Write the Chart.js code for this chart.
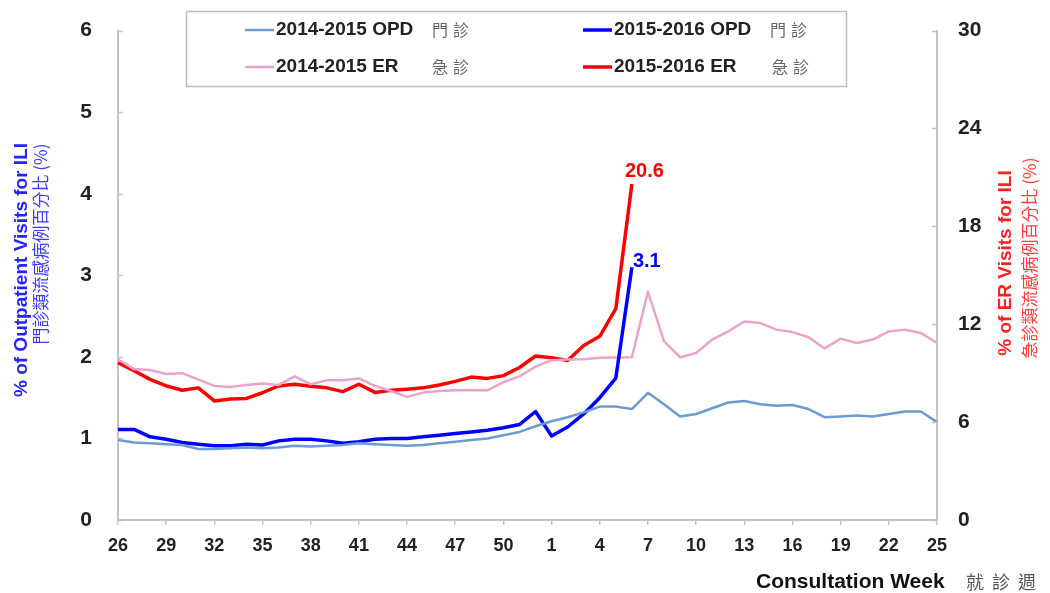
<!DOCTYPE html>
<html>
<head>
<meta charset="utf-8">
<script src="https://cdn.jsdelivr.net/npm/chart.js@4"></script>
<style>
  body { margin: 0; background: #fff; }
  canvas { display: block; }
</style>
</head>
<body>
<canvas id="chartCanvas" width="1050" height="593"></canvas>
<script>
    // consultation weeks 26..52 then 1..25
    const weeks = ['26', '27', '28', '29', '30', '31', '32', '33', '34', '35', '36', '37', '38', '39', '40',
        '41', '42', '43', '44', '45', '46', '47', '48', '49', '50', '51', '52',
        '1', '2', '3', '4', '5', '6', '7', '8', '9', '10', '11', '12', '13', '14', '15', '16', '17', '18',
        '19', '20', '21', '22', '23', '24', '25'];

    // % of outpatient visits for ILI (left axis)
    const opd1415 = [0.98, 0.95, 0.94, 0.93, 0.92, 0.87, 0.87, 0.88, 0.89, 0.88, 0.89, 0.91, 0.90, 0.91, 0.92,
        0.94, 0.93, 0.92, 0.91, 0.92, 0.94, 0.96, 0.98, 1.00, 1.04, 1.08, 1.15,
        1.21, 1.26, 1.32, 1.39, 1.39, 1.36, 1.56, 1.42, 1.27, 1.30, 1.37, 1.44, 1.46, 1.42, 1.40, 1.41, 1.36, 1.26,
        1.27, 1.28, 1.27, 1.30, 1.33, 1.33, 1.20];
    const opd1516 = [1.11, 1.11, 1.02, 0.99, 0.95, 0.93, 0.91, 0.91, 0.93, 0.92, 0.97, 0.99, 0.99, 0.97, 0.94,
        0.96, 0.99, 1.00, 1.00, 1.02, 1.04, 1.06, 1.08, 1.10, 1.13, 1.17, 1.33,
        1.03, 1.14, 1.30, 1.50, 1.74, 3.1];

    // % of ER visits for ILI (right axis)
    const er1415 = [9.85, 9.25, 9.2, 8.95, 9.0, 8.6, 8.22, 8.16, 8.28, 8.36, 8.28, 8.8, 8.32, 8.56, 8.56,
        8.68, 8.22, 7.91, 7.55, 7.81, 7.91, 7.95, 7.95, 7.95, 8.45, 8.8, 9.4,
        9.8, 9.84, 9.86, 9.94, 9.96, 9.98, 14.0, 10.96, 9.98, 10.24, 11.06, 11.56, 12.17, 12.07, 11.67, 11.52, 11.2, 10.51,
        11.12, 10.85, 11.06, 11.56, 11.67, 11.46, 10.85];
    const er1516 = [9.65, 9.15, 8.62, 8.22, 7.95, 8.1, 7.3, 7.42, 7.45, 7.8, 8.22, 8.32, 8.2, 8.1, 7.87,
        8.32, 7.82, 7.95, 8.02, 8.1, 8.28, 8.5, 8.76, 8.68, 8.85, 9.35, 10.05,
        9.95, 9.78, 10.7, 11.26, 12.95, 20.6];

    const axisGrey = '#c4c4c4';
    const tickFont = { family: 'Liberation Sans', weight: 'bold', size: 21 };

    // inward tick marks on both value axes
    const yTicksPlugin = {
        id: 'yTicks',
        afterDraw(chart) {
            const c = chart.ctx;
            c.save();
            c.strokeStyle = axisGrey;
            c.lineWidth = 1.5;
            ['y', 'y1'].forEach(function (id) {
                const s = chart.scales[id];
                const x0 = id === 'y' ? s.right : s.left;
                const dir = id === 'y' ? 1 : -1;
                s.ticks.forEach(function (t) {
                    const py = Math.round(s.getPixelForValue(t.value)) + 0.5;
                    c.beginPath();
                    c.moveTo(x0, py);
                    c.lineTo(x0 + dir * 5, py);
                    c.stroke();
                });
            });
            c.restore();
        }
    };

    // axis titles, legend box and end labels
    const decorPlugin = {
        id: 'decor',
        afterDraw(chart) {
            const c = chart.ctx;
            c.save();

            function vtext(txt, x, y, font, color) {
                c.save();
                c.translate(x, y);
                c.rotate(-Math.PI / 2);
                c.font = font;
                c.fillStyle = color;
                c.textAlign = 'center';
                c.textBaseline = 'middle';
                c.fillText(txt, 0, 0);
                c.restore();
            }
            vtext('% of Outpatient Visits for ILI', 22, 270, 'bold 19px "Liberation Sans"', '#2323ff');
            vtext('門診類流感病例百分比 (%)', 41, 244, '17px "Noto Sans CJK TC"', '#3a3aff');
            vtext('% of ER Visits for ILI', 1006, 263, 'bold 19px "Liberation Sans"', '#ff2020');
            vtext('急診類流感病例百分比 (%)', 1030, 258, '17px "Noto Sans CJK TC"', '#ff3a3a');

            // x axis title
            c.fillStyle = '#111';
            c.font = 'bold 21px "Liberation Sans"';
            c.textBaseline = 'middle';
            c.textAlign = 'left';
            c.fillText('Consultation Week', 756, 582);
            c.font = '18px "Noto Sans CJK TC"';
            c.fillStyle = '#555';
            ['就', '診', '週'].forEach(function (ch, i) {
                c.fillText(ch, 966 + i * 26, 582);
            });

            // legend
            c.strokeStyle = '#bdbdbd';
            c.lineWidth = 1.5;
            c.strokeRect(186.5, 11.5, 660, 75);
            const items = [
                { ds: 0, x: 245, y: 30, text: '2014-2015 OPD', cjk: '門診', cx: 432 },
                { ds: 2, x: 245, y: 67, text: '2014-2015 ER', cjk: '急診', cx: 432 },
                { ds: 1, x: 583, y: 30, text: '2015-2016 OPD', cjk: '門診', cx: 770 },
                { ds: 3, x: 583, y: 67, text: '2015-2016 ER', cjk: '急診', cx: 772 }
            ];
            items.forEach(function (it) {
                const d = chart.data.datasets[it.ds];
                c.strokeStyle = d.borderColor;
                c.lineWidth = d.borderWidth;
                c.beginPath();
                c.moveTo(it.x, it.y);
                c.lineTo(it.x + 29, it.y);
                c.stroke();
                c.fillStyle = '#222';
                c.font = 'bold 19px "Liberation Sans"';
                c.fillText(it.text, it.x + 31, it.y);
                c.fillStyle = '#666';
                c.font = '16px "Noto Sans CJK TC"';
                c.fillText(it.cjk[0], it.cx, it.y);
                c.fillText(it.cjk[1], it.cx + 21, it.y);
            });

            // labels at the last points of 2015-2016 season
            c.font = 'bold 20px "Liberation Sans"';
            c.textBaseline = 'alphabetic';
            const er = chart.getDatasetMeta(3).data[er1516.length - 1];
            c.fillStyle = '#ff0000';
            c.fillText(er1516[er1516.length - 1].toFixed(1), er.x - 7, er.y - 7);
            const op = chart.getDatasetMeta(1).data[opd1516.length - 1];
            c.fillStyle = '#0000ff';
            c.fillText(opd1516[opd1516.length - 1].toFixed(1), op.x + 1, op.y);

            c.restore();
        }
    };

    const ctx = document.getElementById('chartCanvas');

    const chart = new Chart(ctx, {
        type: 'line',
        data: {
            labels: weeks,
            datasets: [
                { label: '2014-2015 OPD', data: opd1415, borderColor: '#6b9bd2', borderWidth: 2.5, yAxisID: 'y' },
                { label: '2015-2016 OPD', data: opd1516, borderColor: '#0000ff', borderWidth: 3.5, yAxisID: 'y' },
                { label: '2014-2015 ER', data: er1415, borderColor: '#eca3cb', borderWidth: 2.5, yAxisID: 'y1' },
                { label: '2015-2016 ER', data: er1516, borderColor: '#ff0000', borderWidth: 3.5, yAxisID: 'y1' }
            ]
        },
        options: {
            responsive: false,
            animation: false,
            layout: { padding: { top: 16, left: 0, right: 0, bottom: 0 } },
            elements: {
                point: { radius: 0 },
                line: { tension: 0, fill: false, borderJoinStyle: 'round' }
            },
            plugins: {
                legend: { display: false },
                tooltip: { enabled: false }
            },
            scales: {
                x: {
                    offset: false,
                    afterFit: function (s) { s.height = 73; },
                    border: { color: axisGrey, width: 2 },
                    grid: {
                        drawOnChartArea: false,
                        tickLength: 5,
                        color: function (c) { return c.index % 3 === 0 ? axisGrey : 'rgba(0,0,0,0)'; },
                        lineWidth: 1.5
                    },
                    ticks: {
                        autoSkip: false,
                        maxRotation: 0,
                        padding: 10,
                        color: '#222',
                        font: { family: 'Liberation Sans', weight: 'bold', size: 18 },
                        callback: function (v, i) { return i % 3 === 0 ? weeks[i] : ''; }
                    }
                },
                y: {
                    position: 'left',
                    min: 0,
                    max: 6,
                    afterFit: function (s) { s.width = 118; },
                    border: { color: axisGrey, width: 2 },
                    grid: { display: false },
                    ticks: { stepSize: 1, padding: 18, color: '#222', font: tickFont }
                },
                y1: {
                    position: 'right',
                    min: 0,
                    max: 30,
                    afterFit: function (s) { s.width = 113; },
                    border: { color: axisGrey, width: 2 },
                    grid: { display: false },
                    ticks: { stepSize: 6, padding: 13, color: '#222', font: tickFont }
                }
            }
        },
        plugins: [yTicksPlugin, decorPlugin]
    });
</script>
</body>
</html>
